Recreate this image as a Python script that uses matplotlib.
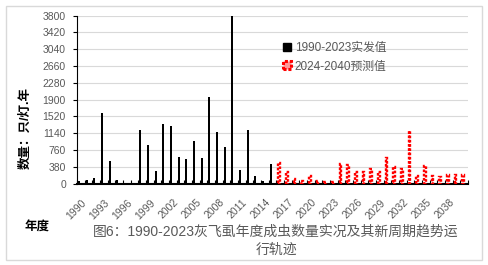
import matplotlib
matplotlib.use('Agg')
import matplotlib.pyplot as plt
from matplotlib.patches import Patch, Rectangle

plt.rcParams['font.family'] = ['Liberation Sans', 'Noto Sans CJK SC', 'DejaVu Sans']

years = list(range(1990, 2041))
# 1990-2015 black series, 2016-2040 red series (as drawn in the source chart)
actual = [60, 90, 130, 1600, 520, 80, 20, 15, 1210, 870, 280, 1345, 1300,
          600, 550, 960, 575, 1960, 1165, 825, 3800, 300, 1210, 180, 60, 440]
forecast = [455, 260, 100, 50, 160, 55, 45, 30, 435, 415, 250, 250, 330,
            250, 570, 380, 320, 1200, 175, 395, 160, 145, 185, 185, 185]
yticks = list(range(0, 3801, 380))
xlabels = [str(y) for y in years[::3]]

gray = '#595959'
fig = plt.figure(figsize=(4.88, 2.65), dpi=100)
fig.patches.append(Rectangle((6 / 488, 1 - 260 / 265), 476 / 488, 254 / 265,
                             transform=fig.transFigure, fill=False,
                             edgecolor='#d9d9d9', lw=1))
ax = fig.add_axes([77 / 488, 1 - 183.5 / 265, 391 / 488, 167.8 / 265])

xa = [i - 0.22 for i in range(len(actual))]
xf = [len(actual) + i - 0.12 for i in range(len(forecast))]
ax.bar(xa, actual, width=0.26, color='black', zorder=3)
ax.bar(xf, forecast, width=0.2, facecolor='none', edgecolor='red',
       linewidth=1.7, linestyle=(0, (1.1, 0.7)), zorder=3)

ax.set_xlim(-0.5, len(years) - 0.5)
ax.set_ylim(0, 3800)
ax.set_yticks(yticks)
ax.set_yticklabels([str(v) for v in yticks], fontsize=7.5, color=gray)
ax.tick_params(axis='y', length=3, width=0.8, pad=5)
ax.grid(axis='y', color='#d9d9d9', lw=0.8, zorder=0)

ax.set_xticks(range(0, len(years), 3))
ax.set_xticklabels(xlabels, rotation=45, ha='right', va='top',
                   rotation_mode='anchor', fontsize=7.5, color=gray)
ax.set_xticks([i - 0.5 for i in range(len(years) + 1)], minor=True)
ax.tick_params(axis='x', which='major', length=0, pad=10)
ax.tick_params(axis='x', which='minor', direction='in', length=3, width=0.8)

for s in ['top', 'right']:
    ax.spines[s].set_visible(False)
ax.spines['left'].set_linewidth(0.8)
ax.spines['bottom'].set_linewidth(1.5)

handles = [Patch(facecolor='black', edgecolor='black'),
           Patch(facecolor='#ff9999', edgecolor='red', lw=2.2, linestyle=(0, (1, 0.6)))]
fig.legend(handles, ['1990-2023实发值', '2024-2040预测值'],
           loc='upper left', bbox_to_anchor=(283 / 488, 1 - 42 / 265),
           frameon=False, fontsize=8.5, handlelength=0.7, handleheight=0.7,
           handletextpad=0.3, labelspacing=0.55, labelcolor=gray,
           borderpad=0, borderaxespad=0)

fig.text(26 / 488, 1 - 128 / 265, '数量：只/灯.年', rotation=90, ha='center',
         va='center', fontsize=9, fontweight='bold')
fig.text(37 / 488, 1 - 228 / 265, '年度', ha='center', va='center',
         fontsize=9, fontweight='bold')
fig.text(276 / 488, 1 - 232 / 265, '图6：1990-2023灰飞虱年度成虫数量实况及其新周期趋势运',
         ha='center', va='center', fontsize=10, color=gray)
fig.text(276 / 488, 1 - 250 / 265, '行轨迹', ha='center', va='center',
         fontsize=10, color=gray)

fig.savefig('out.png', dpi=100)
